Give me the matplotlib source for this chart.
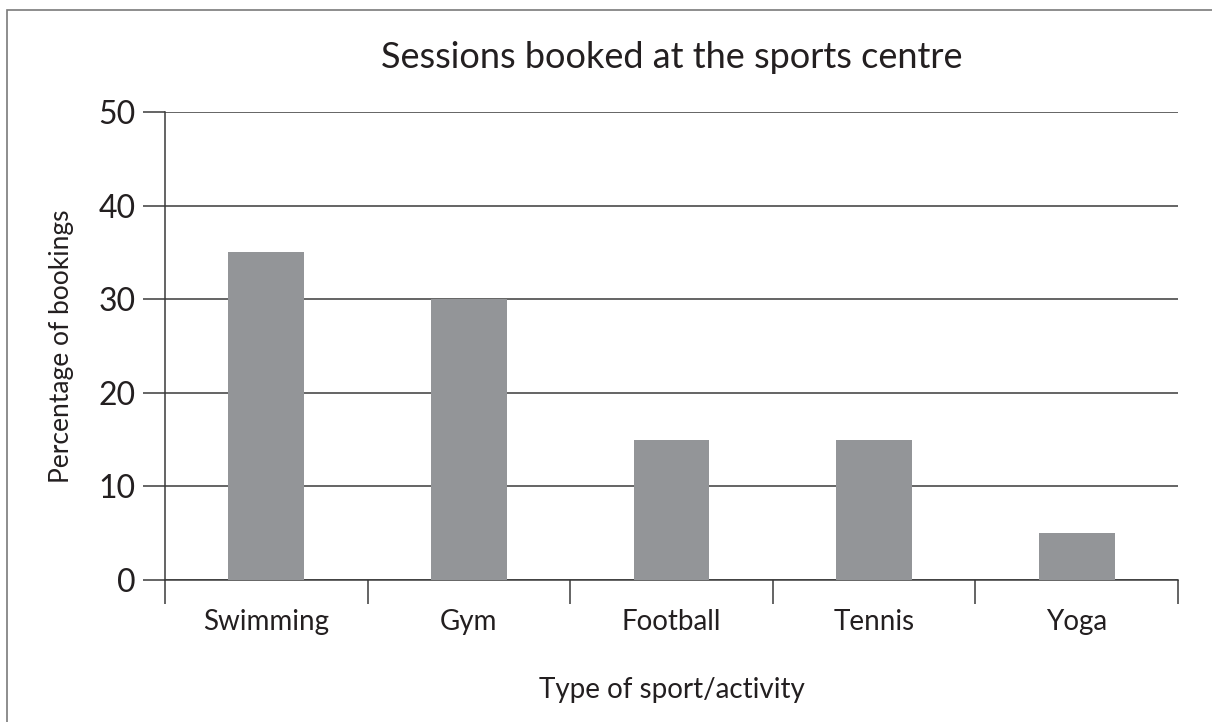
import matplotlib.pyplot as plt
from matplotlib.patches import Rectangle

# data
categories = ["Swimming", "Gym", "Football", "Tennis", "Yoga"]
bookings = [35, 30, 15, 15, 5]
y_ticks = [0, 10, 20, 30, 40, 50]

plt.rcParams['font.family'] = ['Lato', 'DejaVu Sans']

fig = plt.figure(figsize=(12.12, 7.22), dpi=100)
ax = fig.add_axes([165 / 1212, 1 - 580 / 722, (1178 - 165) / 1212, (580 - 112) / 722])

line_col = "#3a3a3a"
bar_col = "#939598"
text_col = "#231f20"

x = list(range(len(categories)))
ax.bar(x, bookings, width=0.375, color=bar_col, zorder=3)

ax.set_xlim(-0.5, len(categories) - 0.5)
ax.set_ylim(0, 50)

# y axis: gridlines with ticks sticking out to the left
ax.set_yticks(y_ticks)
ax.set_yticklabels([str(v) for v in y_ticks], fontsize=23)
ax.tick_params(axis='y', length=16, width=1.1, color=line_col, pad=5, labelcolor=text_col)
ax.grid(axis='y', color=line_col, linewidth=1.1, zorder=0)

# x axis: labels at category centres, separators as minor ticks
ax.set_xticks(x)
ax.set_xticklabels(categories, fontsize=20)
ax.set_xticks([i - 0.5 for i in range(len(categories) + 1)], minor=True)
ax.tick_params(axis='x', which='major', length=0, pad=21, labelcolor=text_col)
ax.tick_params(axis='x', which='minor', length=17, width=1.1, color=line_col)

for s in ['top', 'right']:
    ax.spines[s].set_visible(False)
for s in ['left', 'bottom']:
    ax.spines[s].set_color(line_col)
    ax.spines[s].set_linewidth(1.1)

ax.set_title("Sessions booked at the sports centre", fontsize=26, color=text_col, pad=32)
ax.set_xlabel("Type of sport/activity", fontsize=20, color=text_col, labelpad=30)
ax.set_ylabel("Percentage of bookings", fontsize=19, color=text_col, labelpad=18)

# outer frame
fig.patches.append(Rectangle((7 / 1212, -0.1), 1.2, 1 - 10 / 722 + 0.1,
                             transform=fig.transFigure, fill=False,
                             edgecolor="#7a7a7a", linewidth=1.2))

fig.savefig("out.png", dpi=100)
